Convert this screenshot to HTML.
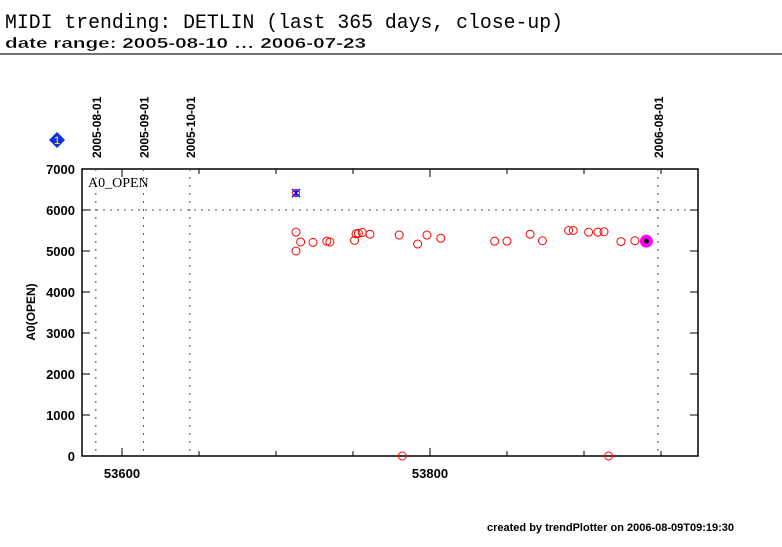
<!DOCTYPE html>
<html><head><meta charset="utf-8"><style>
body{margin:0;background:#fff;width:782px;height:542px;overflow:hidden;font-family:"Liberation Sans",sans-serif}
</style></head><body>
<svg width="782" height="542" xmlns="http://www.w3.org/2000/svg">
<text x="5" y="28" font-family="Liberation Mono, monospace" font-size="20" textLength="558" lengthAdjust="spacingAndGlyphs">MIDI trending: DETLIN (last 365 days, close-up)</text>
<text x="5" y="48" font-family="Liberation Sans, sans-serif" font-size="15" font-weight="bold" stroke="#fff" stroke-width="0.3" textLength="361" lengthAdjust="spacingAndGlyphs">date range: 2005-08-10 … 2006-07-23</text>
<line x1="0" y1="54" x2="782" y2="54" stroke="#444" stroke-width="1.5"/>
<g id="plot"></g>
<text x="487" y="531" font-size="11" font-weight="bold">created by trendPlotter on 2006-08-09T09:19:30</text>
</svg>
<script>
const xTicks=[53600,53800];
const yTicks=[0,1000,2000,3000,4000,5000,6000,7000];
const dateLabels=["2005-08-01","2005-09-01","2005-10-01","2006-08-01"];
const dateMjd=[53583,53614,53644,53948];
const mjd=[53713,53716,53713,53724,53733,53735,53751,53752,53753.5,53756,53761,53780,53792,53798,53807,53842,53850,53865,53873,53890,53893,53903,53909,53913,53924,53933,53782,53916];
const vals=[5460,5220,5000,5210,5240,5220,5260,5420,5430,5450,5410,5390,5170,5390,5310,5240,5240,5410,5250,5500,5500,5460,5460,5470,5230,5250,0,0];
const starMjd=[53713];const starVal=[6415];
const lastMjd=[53940.5];const lastVal=[5240];
const L=82,R=698,T=169,B=456;
const X=m=>122+(m-53600)*1.54;
const Y=v=>B-(v/7000)*(B-T);
const g=document.getElementById('plot');const NS='http://www.w3.org/2000/svg';
function mk(t,a,txt){const e=document.createElementNS(NS,t);for(const k in a)e.setAttribute(k,a[k]);if(txt!=null)e.textContent=txt;g.appendChild(e);return e;}
let e;
e=mk('rect',{x:L,y:T,width:R-L,height:B-T,fill:'none',stroke:'#000','stroke-width':1.5});


e=mk('line',{x1:L,y1:Y(6000),x2:R,y2:Y(6000),stroke:'#555','stroke-dasharray':'2,5'});


for(let m=53550;m<=53950;m+=50){const x=X(m);if(x<L||x>R)continue;const big=m%200===0;
e=mk('line',{x1:x,y1:B,x2:x,y2:B-(big?8:5),stroke:'#000'});
e=mk('line',{x1:x,y1:T,x2:x,y2:T+(big?8:5),stroke:'#000'});}
xTicks.forEach(m=>{e=mk('text',{x:X(m),y:478,'font-size':13,'font-weight':'bold','text-anchor':'middle'},String(m));});
yTicks.forEach(v=>{const y=Y(v);
e=mk('line',{x1:L,y1:y,x2:L+8,y2:y,stroke:'#000'});
e=mk('line',{x1:R,y1:y,x2:R-8,y2:y,stroke:'#000'});
e=mk('text',{x:75,y:y+5,'font-size':13,'font-weight':'bold','text-anchor':'end'},String(v));});
dateMjd.forEach((m,i)=>{const x=X(m);
e=mk('line',{x1:x,y1:T,x2:x,y2:B,stroke:'#555','stroke-dasharray':'2,6'});
e=mk('text',{x:0,y:0,'font-size':12,'font-weight':'bold',transform:`translate(${x+5},158) rotate(-90)`},dateLabels[i]);});
e=mk('text',{x:0,y:0,'font-size':12,'font-weight':'bold','text-anchor':'middle',transform:'translate(35,312) rotate(-90)'},'A0(OPEN)');


e=mk('text',{x:88,y:187,'font-size':14,'font-family':'Liberation Serif, serif'},'A0_OPEN');


e=mk('polygon',{points:'57,132 65,140 57,148 49,140',fill:'#1030e0'});


e=mk('text',{x:57,y:144,'font-size':11,'text-anchor':'middle',fill:'#ff0'},'1');


mjd.forEach((m,i)=>{e=mk('circle',{cx:X(m),cy:Y(vals[i]),r:4,fill:'none',stroke:'#f00','stroke-width':1});});
starMjd.forEach((m,i)=>{const x=X(m),y=Y(starVal[i]);
e=mk('circle',{cx:x,cy:y,r:3.5,fill:'none',stroke:'#f00'});
e=mk('path',{d:`M${x-4},${y-4}L${x+4},${y+4}M${x+4},${y-4}L${x-4},${y+4}M${x},${y-4}V${y+4}`,stroke:'#00f','stroke-width':1.3});});
lastMjd.forEach((m,i)=>{const x=X(m),y=Y(lastVal[i]);
e=mk('circle',{cx:x,cy:y,r:6.5,fill:'#f0f'});
e=mk('circle',{cx:x,cy:y,r:2.5,fill:'#000'});});
</script>
</body></html>
